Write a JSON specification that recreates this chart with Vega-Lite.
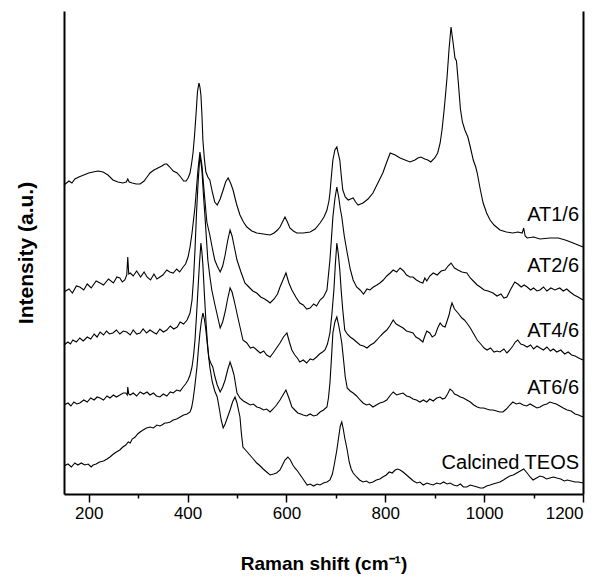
{
"$schema": "https://vega.github.io/schema/vega-lite/v6.json",
"width": 519, "height": 483,
"autosize": {"type": "none"},
"padding": {"left": 64, "top": 11, "right": 21, "bottom": 83},
"config": {"view": {"stroke": null}, "font": "Liberation Sans"},
"datasets": {
"labels": [
{"s":"AT1/6","w":1192,"i":279},{"s":"AT2/6","w":1192,"i":228},{"s":"AT4/6","w":1192,"i":163},{"s":"AT6/6","w":1192,"i":106},{"s":"Calcined TEOS","w":1192,"i":31}
],
"spectra": [
{"s":"AT1","w":150,"i":309},{"s":"AT1","w":160,"i":313},{"s":"AT1","w":166,"i":311},{"s":"AT1","w":172,"i":315},{"s":"AT1","w":180,"i":317},{"s":"AT1","w":190,"i":319},{"s":"AT1","w":200,"i":321},{"s":"AT1","w":209,"i":322},{"s":"AT1","w":219,"i":323},{"s":"AT1","w":229,"i":322},{"s":"AT1","w":239,"i":319},{"s":"AT1","w":249,"i":314},{"s":"AT1","w":259,"i":312},{"s":"AT1","w":269,"i":311},{"s":"AT1","w":276,"i":312},{"s":"AT1","w":279,"i":315},{"s":"AT1","w":282,"i":312},{"s":"AT1","w":288,"i":311},{"s":"AT1","w":296,"i":310},{"s":"AT1","w":304,"i":310},{"s":"AT1","w":312,"i":313},{"s":"AT1","w":318,"i":317},{"s":"AT1","w":324,"i":321},{"s":"AT1","w":332,"i":324},{"s":"AT1","w":340,"i":326},{"s":"AT1","w":348,"i":328},{"s":"AT1","w":354,"i":330},{"s":"AT1","w":358,"i":330},{"s":"AT1","w":364,"i":327},{"s":"AT1","w":371,"i":323},{"s":"AT1","w":379,"i":321},{"s":"AT1","w":386,"i":317},{"s":"AT1","w":392,"i":313},{"s":"AT1","w":397,"i":313},{"s":"AT1","w":401,"i":316},{"s":"AT1","w":405,"i":321},{"s":"AT1","w":408,"i":330},{"s":"AT1","w":411,"i":341},{"s":"AT1","w":414,"i":358},{"s":"AT1","w":417,"i":379},{"s":"AT1","w":420,"i":402},{"s":"AT1","w":423,"i":411},{"s":"AT1","w":425,"i":407},{"s":"AT1","w":427,"i":399},{"s":"AT1","w":429,"i":380},{"s":"AT1","w":431,"i":354},{"s":"AT1","w":434,"i":335},{"s":"AT1","w":437,"i":322},{"s":"AT1","w":441,"i":317},{"s":"AT1","w":445,"i":314},{"s":"AT1","w":450,"i":302},{"s":"AT1","w":455,"i":292},{"s":"AT1","w":460,"i":289},{"s":"AT1","w":466,"i":295},{"s":"AT1","w":472,"i":304},{"s":"AT1","w":477,"i":312},{"s":"AT1","w":482,"i":316},{"s":"AT1","w":487,"i":311},{"s":"AT1","w":492,"i":304},{"s":"AT1","w":499,"i":290},{"s":"AT1","w":506,"i":279},{"s":"AT1","w":513,"i":272},{"s":"AT1","w":520,"i":267},{"s":"AT1","w":530,"i":263},{"s":"AT1","w":540,"i":261},{"s":"AT1","w":553,"i":260},{"s":"AT1","w":567,"i":259},{"s":"AT1","w":575,"i":261},{"s":"AT1","w":582,"i":264},{"s":"AT1","w":587,"i":267},{"s":"AT1","w":592,"i":272},{"s":"AT1","w":597,"i":277},{"s":"AT1","w":602,"i":272},{"s":"AT1","w":607,"i":266},{"s":"AT1","w":614,"i":263},{"s":"AT1","w":621,"i":261},{"s":"AT1","w":634,"i":261},{"s":"AT1","w":648,"i":262},{"s":"AT1","w":658,"i":265},{"s":"AT1","w":668,"i":271},{"s":"AT1","w":676,"i":277},{"s":"AT1","w":682,"i":284},{"s":"AT1","w":686,"i":293},{"s":"AT1","w":688,"i":301},{"s":"AT1","w":691,"i":318},{"s":"AT1","w":694,"i":334},{"s":"AT1","w":698,"i":344},{"s":"AT1","w":702,"i":347},{"s":"AT1","w":705,"i":340},{"s":"AT1","w":708,"i":334},{"s":"AT1","w":711,"i":318},{"s":"AT1","w":714,"i":304},{"s":"AT1","w":719,"i":297},{"s":"AT1","w":725,"i":294},{"s":"AT1","w":730,"i":295},{"s":"AT1","w":735,"i":296},{"s":"AT1","w":740,"i":292},{"s":"AT1","w":745,"i":289},{"s":"AT1","w":750,"i":290},{"s":"AT1","w":755,"i":291},{"s":"AT1","w":765,"i":295},{"s":"AT1","w":775,"i":301},{"s":"AT1","w":785,"i":311},{"s":"AT1","w":795,"i":321},{"s":"AT1","w":803,"i":332},{"s":"AT1","w":810,"i":341},{"s":"AT1","w":820,"i":339},{"s":"AT1","w":830,"i":336},{"s":"AT1","w":840,"i":334},{"s":"AT1","w":850,"i":332},{"s":"AT1","w":860,"i":334},{"s":"AT1","w":866,"i":336},{"s":"AT1","w":872,"i":337},{"s":"AT1","w":880,"i":335},{"s":"AT1","w":886,"i":334},{"s":"AT1","w":892,"i":332},{"s":"AT1","w":900,"i":336},{"s":"AT1","w":906,"i":341},{"s":"AT1","w":911,"i":351},{"s":"AT1","w":915,"i":365},{"s":"AT1","w":919,"i":384},{"s":"AT1","w":922,"i":400},{"s":"AT1","w":925,"i":417},{"s":"AT1","w":929,"i":445},{"s":"AT1","w":933,"i":467},{"s":"AT1","w":937,"i":452},{"s":"AT1","w":941,"i":436},{"s":"AT1","w":944,"i":433},{"s":"AT1","w":948,"i":410},{"s":"AT1","w":952,"i":385},{"s":"AT1","w":956,"i":372},{"s":"AT1","w":961,"i":364},{"s":"AT1","w":967,"i":357},{"s":"AT1","w":972,"i":347},{"s":"AT1","w":978,"i":334},{"s":"AT1","w":983,"i":327},{"s":"AT1","w":986,"i":321},{"s":"AT1","w":992,"i":305},{"s":"AT1","w":998,"i":291},{"s":"AT1","w":1005,"i":281},{"s":"AT1","w":1012,"i":274},{"s":"AT1","w":1020,"i":269},{"s":"AT1","w":1032,"i":264},{"s":"AT1","w":1045,"i":262},{"s":"AT1","w":1058,"i":261},{"s":"AT1","w":1068,"i":262},{"s":"AT1","w":1077,"i":261},{"s":"AT1","w":1080,"i":266},{"s":"AT1","w":1083,"i":258},{"s":"AT1","w":1087,"i":256},{"s":"AT1","w":1100,"i":257},{"s":"AT1","w":1113,"i":255},{"s":"AT1","w":1133,"i":256},{"s":"AT1","w":1150,"i":256},{"s":"AT1","w":1164,"i":254},{"s":"AT1","w":1175,"i":252},{"s":"AT1","w":1185,"i":250},{"s":"AT1","w":1200,"i":247},

{"s":"AT2","w":150,"i":202},{"s":"AT2","w":160,"i":205},{"s":"AT2","w":167,"i":201},{"s":"AT2","w":175,"i":208},{"s":"AT2","w":182,"i":207},{"s":"AT2","w":190,"i":204},{"s":"AT2","w":197,"i":210},{"s":"AT2","w":205,"i":206},{"s":"AT2","w":215,"i":213},{"s":"AT2","w":223,"i":211},{"s":"AT2","w":230,"i":209},{"s":"AT2","w":240,"i":215},{"s":"AT2","w":250,"i":211},{"s":"AT2","w":257,"i":217},{"s":"AT2","w":263,"i":216},{"s":"AT2","w":268,"i":212},{"s":"AT2","w":273,"i":214},{"s":"AT2","w":277,"i":219},{"s":"AT2","w":279,"i":237},{"s":"AT2","w":281,"i":220},{"s":"AT2","w":284,"i":221},{"s":"AT2","w":290,"i":218},{"s":"AT2","w":297,"i":223},{"s":"AT2","w":305,"i":217},{"s":"AT2","w":312,"i":222},{"s":"AT2","w":318,"i":217},{"s":"AT2","w":325,"i":214},{"s":"AT2","w":332,"i":220},{"s":"AT2","w":338,"i":215},{"s":"AT2","w":344,"i":217},{"s":"AT2","w":350,"i":219},{"s":"AT2","w":358,"i":224},{"s":"AT2","w":364,"i":222},{"s":"AT2","w":371,"i":221},{"s":"AT2","w":378,"i":225},{"s":"AT2","w":384,"i":222},{"s":"AT2","w":391,"i":227},{"s":"AT2","w":396,"i":230},{"s":"AT2","w":401,"i":237},{"s":"AT2","w":405,"i":247},{"s":"AT2","w":409,"i":261},{"s":"AT2","w":415,"i":287},{"s":"AT2","w":421,"i":324},{"s":"AT2","w":425,"i":342},{"s":"AT2","w":429,"i":329},{"s":"AT2","w":435,"i":294},{"s":"AT2","w":439,"i":272},{"s":"AT2","w":445,"i":259},{"s":"AT2","w":450,"i":246},{"s":"AT2","w":455,"i":234},{"s":"AT2","w":460,"i":228},{"s":"AT2","w":466,"i":222},{"s":"AT2","w":471,"i":228},{"s":"AT2","w":476,"i":239},{"s":"AT2","w":481,"i":253},{"s":"AT2","w":486,"i":264},{"s":"AT2","w":490,"i":258},{"s":"AT2","w":495,"i":246},{"s":"AT2","w":500,"i":234},{"s":"AT2","w":508,"i":222},{"s":"AT2","w":516,"i":211},{"s":"AT2","w":524,"i":207},{"s":"AT2","w":532,"i":203},{"s":"AT2","w":540,"i":201},{"s":"AT2","w":548,"i":197},{"s":"AT2","w":556,"i":195},{"s":"AT2","w":562,"i":193},{"s":"AT2","w":567,"i":191},{"s":"AT2","w":575,"i":195},{"s":"AT2","w":582,"i":200},{"s":"AT2","w":587,"i":207},{"s":"AT2","w":593,"i":214},{"s":"AT2","w":599,"i":221},{"s":"AT2","w":605,"i":211},{"s":"AT2","w":611,"i":204},{"s":"AT2","w":619,"i":197},{"s":"AT2","w":627,"i":191},{"s":"AT2","w":634,"i":189},{"s":"AT2","w":641,"i":185},{"s":"AT2","w":648,"i":186},{"s":"AT2","w":655,"i":190},{"s":"AT2","w":661,"i":188},{"s":"AT2","w":668,"i":194},{"s":"AT2","w":675,"i":197},{"s":"AT2","w":682,"i":204},{"s":"AT2","w":688,"i":234},{"s":"AT2","w":691,"i":255},{"s":"AT2","w":694,"i":277},{"s":"AT2","w":698,"i":295},{"s":"AT2","w":702,"i":307},{"s":"AT2","w":706,"i":296},{"s":"AT2","w":709,"i":285},{"s":"AT2","w":712,"i":277},{"s":"AT2","w":717,"i":258},{"s":"AT2","w":723,"i":241},{"s":"AT2","w":729,"i":225},{"s":"AT2","w":735,"i":214},{"s":"AT2","w":742,"i":207},{"s":"AT2","w":749,"i":204},{"s":"AT2","w":756,"i":200},{"s":"AT2","w":763,"i":205},{"s":"AT2","w":769,"i":204},{"s":"AT2","w":776,"i":207},{"s":"AT2","w":783,"i":209},{"s":"AT2","w":789,"i":211},{"s":"AT2","w":796,"i":214},{"s":"AT2","w":803,"i":218},{"s":"AT2","w":810,"i":221},{"s":"AT2","w":816,"i":224},{"s":"AT2","w":823,"i":222},{"s":"AT2","w":830,"i":226},{"s":"AT2","w":837,"i":223},{"s":"AT2","w":843,"i":219},{"s":"AT2","w":850,"i":217},{"s":"AT2","w":856,"i":217},{"s":"AT2","w":863,"i":214},{"s":"AT2","w":870,"i":212},{"s":"AT2","w":876,"i":211},{"s":"AT2","w":880,"i":216},{"s":"AT2","w":884,"i":213},{"s":"AT2","w":890,"i":218},{"s":"AT2","w":897,"i":221},{"s":"AT2","w":905,"i":219},{"s":"AT2","w":913,"i":223},{"s":"AT2","w":921,"i":224},{"s":"AT2","w":927,"i":228},{"s":"AT2","w":933,"i":231},{"s":"AT2","w":940,"i":226},{"s":"AT2","w":947,"i":224},{"s":"AT2","w":955,"i":222},{"s":"AT2","w":965,"i":221},{"s":"AT2","w":972,"i":216},{"s":"AT2","w":980,"i":212},{"s":"AT2","w":986,"i":209},{"s":"AT2","w":992,"i":207},{"s":"AT2","w":1000,"i":204},{"s":"AT2","w":1008,"i":203},{"s":"AT2","w":1018,"i":201},{"s":"AT2","w":1026,"i":198},{"s":"AT2","w":1034,"i":200},{"s":"AT2","w":1040,"i":196},{"s":"AT2","w":1046,"i":197},{"s":"AT2","w":1054,"i":205},{"s":"AT2","w":1062,"i":212},{"s":"AT2","w":1068,"i":210},{"s":"AT2","w":1075,"i":207},{"s":"AT2","w":1081,"i":209},{"s":"AT2","w":1087,"i":207},{"s":"AT2","w":1094,"i":204},{"s":"AT2","w":1100,"i":206},{"s":"AT2","w":1107,"i":203},{"s":"AT2","w":1113,"i":204},{"s":"AT2","w":1120,"i":207},{"s":"AT2","w":1127,"i":203},{"s":"AT2","w":1135,"i":206},{"s":"AT2","w":1143,"i":204},{"s":"AT2","w":1153,"i":206},{"s":"AT2","w":1160,"i":203},{"s":"AT2","w":1167,"i":205},{"s":"AT2","w":1174,"i":202},{"s":"AT2","w":1182,"i":199},{"s":"AT2","w":1190,"i":197},{"s":"AT2","w":1200,"i":194},

{"s":"AT4","w":150,"i":149},{"s":"AT4","w":158,"i":152},{"s":"AT4","w":163,"i":150},{"s":"AT4","w":168,"i":154},{"s":"AT4","w":175,"i":152},{"s":"AT4","w":182,"i":156},{"s":"AT4","w":189,"i":153},{"s":"AT4","w":197,"i":157},{"s":"AT4","w":204,"i":155},{"s":"AT4","w":211,"i":160},{"s":"AT4","w":217,"i":157},{"s":"AT4","w":223,"i":162},{"s":"AT4","w":230,"i":159},{"s":"AT4","w":236,"i":163},{"s":"AT4","w":242,"i":160},{"s":"AT4","w":249,"i":161},{"s":"AT4","w":256,"i":164},{"s":"AT4","w":263,"i":160},{"s":"AT4","w":270,"i":163},{"s":"AT4","w":277,"i":162},{"s":"AT4","w":284,"i":159},{"s":"AT4","w":290,"i":164},{"s":"AT4","w":297,"i":160},{"s":"AT4","w":304,"i":161},{"s":"AT4","w":310,"i":165},{"s":"AT4","w":317,"i":161},{"s":"AT4","w":324,"i":164},{"s":"AT4","w":330,"i":162},{"s":"AT4","w":337,"i":160},{"s":"AT4","w":344,"i":165},{"s":"AT4","w":351,"i":162},{"s":"AT4","w":358,"i":164},{"s":"AT4","w":365,"i":168},{"s":"AT4","w":372,"i":165},{"s":"AT4","w":379,"i":167},{"s":"AT4","w":385,"i":172},{"s":"AT4","w":392,"i":170},{"s":"AT4","w":399,"i":174},{"s":"AT4","w":405,"i":181},{"s":"AT4","w":409,"i":194},{"s":"AT4","w":412,"i":215},{"s":"AT4","w":415,"i":244},{"s":"AT4","w":418,"i":280},{"s":"AT4","w":421,"i":309},{"s":"AT4","w":425,"i":339},{"s":"AT4","w":429,"i":324},{"s":"AT4","w":432,"i":300},{"s":"AT4","w":435,"i":279},{"s":"AT4","w":441,"i":234},{"s":"AT4","w":445,"i":218},{"s":"AT4","w":449,"i":204},{"s":"AT4","w":455,"i":190},{"s":"AT4","w":460,"i":179},{"s":"AT4","w":466,"i":166},{"s":"AT4","w":471,"i":172},{"s":"AT4","w":476,"i":182},{"s":"AT4","w":481,"i":195},{"s":"AT4","w":486,"i":206},{"s":"AT4","w":490,"i":202},{"s":"AT4","w":494,"i":194},{"s":"AT4","w":498,"i":185},{"s":"AT4","w":502,"i":176},{"s":"AT4","w":507,"i":165},{"s":"AT4","w":512,"i":154},{"s":"AT4","w":520,"i":151},{"s":"AT4","w":527,"i":146},{"s":"AT4","w":533,"i":147},{"s":"AT4","w":540,"i":144},{"s":"AT4","w":547,"i":141},{"s":"AT4","w":554,"i":143},{"s":"AT4","w":560,"i":139},{"s":"AT4","w":567,"i":137},{"s":"AT4","w":573,"i":141},{"s":"AT4","w":580,"i":146},{"s":"AT4","w":587,"i":151},{"s":"AT4","w":594,"i":157},{"s":"AT4","w":601,"i":161},{"s":"AT4","w":606,"i":152},{"s":"AT4","w":611,"i":144},{"s":"AT4","w":617,"i":139},{"s":"AT4","w":622,"i":136},{"s":"AT4","w":627,"i":132},{"s":"AT4","w":634,"i":134},{"s":"AT4","w":641,"i":131},{"s":"AT4","w":648,"i":135},{"s":"AT4","w":654,"i":134},{"s":"AT4","w":661,"i":137},{"s":"AT4","w":667,"i":140},{"s":"AT4","w":673,"i":142},{"s":"AT4","w":678,"i":144},{"s":"AT4","w":683,"i":150},{"s":"AT4","w":688,"i":161},{"s":"AT4","w":692,"i":180},{"s":"AT4","w":696,"i":204},{"s":"AT4","w":699,"i":230},{"s":"AT4","w":702,"i":251},{"s":"AT4","w":705,"i":240},{"s":"AT4","w":708,"i":224},{"s":"AT4","w":711,"i":202},{"s":"AT4","w":714,"i":184},{"s":"AT4","w":718,"i":164},{"s":"AT4","w":723,"i":160},{"s":"AT4","w":729,"i":157},{"s":"AT4","w":735,"i":155},{"s":"AT4","w":742,"i":152},{"s":"AT4","w":749,"i":149},{"s":"AT4","w":756,"i":148},{"s":"AT4","w":763,"i":146},{"s":"AT4","w":770,"i":149},{"s":"AT4","w":777,"i":151},{"s":"AT4","w":783,"i":154},{"s":"AT4","w":790,"i":158},{"s":"AT4","w":796,"i":161},{"s":"AT4","w":803,"i":164},{"s":"AT4","w":809,"i":168},{"s":"AT4","w":816,"i":174},{"s":"AT4","w":822,"i":170},{"s":"AT4","w":829,"i":168},{"s":"AT4","w":836,"i":166},{"s":"AT4","w":843,"i":163},{"s":"AT4","w":850,"i":162},{"s":"AT4","w":856,"i":161},{"s":"AT4","w":862,"i":157},{"s":"AT4","w":869,"i":155},{"s":"AT4","w":876,"i":152},{"s":"AT4","w":880,"i":158},{"s":"AT4","w":884,"i":163},{"s":"AT4","w":890,"i":161},{"s":"AT4","w":895,"i":157},{"s":"AT4","w":901,"i":159},{"s":"AT4","w":906,"i":166},{"s":"AT4","w":911,"i":171},{"s":"AT4","w":916,"i":168},{"s":"AT4","w":921,"i":167},{"s":"AT4","w":925,"i":173},{"s":"AT4","w":929,"i":179},{"s":"AT4","w":932,"i":186},{"s":"AT4","w":935,"i":191},{"s":"AT4","w":940,"i":185},{"s":"AT4","w":947,"i":181},{"s":"AT4","w":955,"i":176},{"s":"AT4","w":960,"i":174},{"s":"AT4","w":965,"i":171},{"s":"AT4","w":972,"i":166},{"s":"AT4","w":979,"i":160},{"s":"AT4","w":986,"i":154},{"s":"AT4","w":993,"i":150},{"s":"AT4","w":1000,"i":146},{"s":"AT4","w":1006,"i":144},{"s":"AT4","w":1013,"i":146},{"s":"AT4","w":1020,"i":142},{"s":"AT4","w":1026,"i":143},{"s":"AT4","w":1032,"i":142},{"s":"AT4","w":1040,"i":145},{"s":"AT4","w":1046,"i":141},{"s":"AT4","w":1052,"i":144},{"s":"AT4","w":1058,"i":148},{"s":"AT4","w":1063,"i":152},{"s":"AT4","w":1068,"i":154},{"s":"AT4","w":1074,"i":150},{"s":"AT4","w":1080,"i":149},{"s":"AT4","w":1087,"i":147},{"s":"AT4","w":1094,"i":149},{"s":"AT4","w":1100,"i":145},{"s":"AT4","w":1107,"i":148},{"s":"AT4","w":1113,"i":146},{"s":"AT4","w":1120,"i":144},{"s":"AT4","w":1127,"i":147},{"s":"AT4","w":1134,"i":143},{"s":"AT4","w":1140,"i":145},{"s":"AT4","w":1147,"i":142},{"s":"AT4","w":1155,"i":144},{"s":"AT4","w":1163,"i":140},{"s":"AT4","w":1170,"i":142},{"s":"AT4","w":1177,"i":139},{"s":"AT4","w":1184,"i":138},{"s":"AT4","w":1191,"i":136},{"s":"AT4","w":1200,"i":134},

{"s":"AT6","w":150,"i":89},{"s":"AT6","w":158,"i":91},{"s":"AT6","w":164,"i":88},{"s":"AT6","w":170,"i":92},{"s":"AT6","w":176,"i":90},{"s":"AT6","w":182,"i":91},{"s":"AT6","w":190,"i":94},{"s":"AT6","w":197,"i":92},{"s":"AT6","w":204,"i":96},{"s":"AT6","w":211,"i":94},{"s":"AT6","w":217,"i":97},{"s":"AT6","w":223,"i":96},{"s":"AT6","w":230,"i":94},{"s":"AT6","w":237,"i":98},{"s":"AT6","w":243,"i":96},{"s":"AT6","w":250,"i":99},{"s":"AT6","w":256,"i":97},{"s":"AT6","w":263,"i":99},{"s":"AT6","w":270,"i":101},{"s":"AT6","w":275,"i":101},{"s":"AT6","w":278,"i":99},{"s":"AT6","w":279,"i":107},{"s":"AT6","w":281,"i":100},{"s":"AT6","w":284,"i":99},{"s":"AT6","w":290,"i":101},{"s":"AT6","w":297,"i":98},{"s":"AT6","w":304,"i":102},{"s":"AT6","w":311,"i":100},{"s":"AT6","w":318,"i":102},{"s":"AT6","w":324,"i":99},{"s":"AT6","w":331,"i":101},{"s":"AT6","w":337,"i":98},{"s":"AT6","w":344,"i":97},{"s":"AT6","w":351,"i":100},{"s":"AT6","w":358,"i":98},{"s":"AT6","w":365,"i":102},{"s":"AT6","w":371,"i":101},{"s":"AT6","w":378,"i":104},{"s":"AT6","w":385,"i":103},{"s":"AT6","w":391,"i":107},{"s":"AT6","w":396,"i":110},{"s":"AT6","w":401,"i":114},{"s":"AT6","w":405,"i":119},{"s":"AT6","w":409,"i":127},{"s":"AT6","w":412,"i":138},{"s":"AT6","w":415,"i":154},{"s":"AT6","w":418,"i":178},{"s":"AT6","w":421,"i":204},{"s":"AT6","w":424,"i":230},{"s":"AT6","w":427,"i":251},{"s":"AT6","w":429,"i":242},{"s":"AT6","w":431,"i":229},{"s":"AT6","w":434,"i":200},{"s":"AT6","w":437,"i":174},{"s":"AT6","w":440,"i":152},{"s":"AT6","w":443,"i":136},{"s":"AT6","w":447,"i":131},{"s":"AT6","w":451,"i":127},{"s":"AT6","w":455,"i":118},{"s":"AT6","w":460,"i":109},{"s":"AT6","w":466,"i":102},{"s":"AT6","w":471,"i":107},{"s":"AT6","w":476,"i":114},{"s":"AT6","w":481,"i":124},{"s":"AT6","w":486,"i":132},{"s":"AT6","w":490,"i":126},{"s":"AT6","w":494,"i":119},{"s":"AT6","w":497,"i":110},{"s":"AT6","w":500,"i":101},{"s":"AT6","w":506,"i":96},{"s":"AT6","w":513,"i":93},{"s":"AT6","w":520,"i":91},{"s":"AT6","w":527,"i":89},{"s":"AT6","w":533,"i":90},{"s":"AT6","w":540,"i":87},{"s":"AT6","w":547,"i":86},{"s":"AT6","w":554,"i":84},{"s":"AT6","w":560,"i":85},{"s":"AT6","w":567,"i":82},{"s":"AT6","w":573,"i":85},{"s":"AT6","w":580,"i":89},{"s":"AT6","w":587,"i":94},{"s":"AT6","w":593,"i":99},{"s":"AT6","w":599,"i":104},{"s":"AT6","w":605,"i":96},{"s":"AT6","w":611,"i":87},{"s":"AT6","w":617,"i":84},{"s":"AT6","w":623,"i":81},{"s":"AT6","w":629,"i":80},{"s":"AT6","w":634,"i":79},{"s":"AT6","w":641,"i":78},{"s":"AT6","w":648,"i":80},{"s":"AT6","w":655,"i":78},{"s":"AT6","w":662,"i":79},{"s":"AT6","w":668,"i":82},{"s":"AT6","w":675,"i":84},{"s":"AT6","w":682,"i":87},{"s":"AT6","w":685,"i":96},{"s":"AT6","w":688,"i":111},{"s":"AT6","w":691,"i":135},{"s":"AT6","w":694,"i":161},{"s":"AT6","w":698,"i":172},{"s":"AT6","w":702,"i":177},{"s":"AT6","w":706,"i":168},{"s":"AT6","w":709,"i":160},{"s":"AT6","w":712,"i":151},{"s":"AT6","w":716,"i":132},{"s":"AT6","w":719,"i":117},{"s":"AT6","w":723,"i":106},{"s":"AT6","w":729,"i":103},{"s":"AT6","w":735,"i":101},{"s":"AT6","w":742,"i":98},{"s":"AT6","w":749,"i":94},{"s":"AT6","w":755,"i":91},{"s":"AT6","w":762,"i":89},{"s":"AT6","w":768,"i":90},{"s":"AT6","w":775,"i":87},{"s":"AT6","w":782,"i":89},{"s":"AT6","w":789,"i":91},{"s":"AT6","w":796,"i":92},{"s":"AT6","w":803,"i":94},{"s":"AT6","w":809,"i":98},{"s":"AT6","w":816,"i":102},{"s":"AT6","w":823,"i":99},{"s":"AT6","w":829,"i":100},{"s":"AT6","w":836,"i":101},{"s":"AT6","w":843,"i":98},{"s":"AT6","w":850,"i":97},{"s":"AT6","w":856,"i":95},{"s":"AT6","w":863,"i":94},{"s":"AT6","w":870,"i":92},{"s":"AT6","w":877,"i":94},{"s":"AT6","w":884,"i":92},{"s":"AT6","w":890,"i":95},{"s":"AT6","w":897,"i":93},{"s":"AT6","w":904,"i":96},{"s":"AT6","w":911,"i":97},{"s":"AT6","w":916,"i":95},{"s":"AT6","w":921,"i":96},{"s":"AT6","w":926,"i":100},{"s":"AT6","w":931,"i":105},{"s":"AT6","w":936,"i":103},{"s":"AT6","w":940,"i":100},{"s":"AT6","w":945,"i":99},{"s":"AT6","w":952,"i":97},{"s":"AT6","w":958,"i":96},{"s":"AT6","w":965,"i":94},{"s":"AT6","w":972,"i":92},{"s":"AT6","w":979,"i":89},{"s":"AT6","w":986,"i":87},{"s":"AT6","w":992,"i":86},{"s":"AT6","w":999,"i":86},{"s":"AT6","w":1005,"i":85},{"s":"AT6","w":1012,"i":84},{"s":"AT6","w":1018,"i":84},{"s":"AT6","w":1025,"i":83},{"s":"AT6","w":1032,"i":82},{"s":"AT6","w":1038,"i":82},{"s":"AT6","w":1045,"i":85},{"s":"AT6","w":1052,"i":89},{"s":"AT6","w":1058,"i":92},{"s":"AT6","w":1065,"i":90},{"s":"AT6","w":1072,"i":91},{"s":"AT6","w":1079,"i":89},{"s":"AT6","w":1086,"i":88},{"s":"AT6","w":1093,"i":90},{"s":"AT6","w":1100,"i":88},{"s":"AT6","w":1107,"i":86},{"s":"AT6","w":1113,"i":87},{"s":"AT6","w":1120,"i":89},{"s":"AT6","w":1127,"i":90},{"s":"AT6","w":1133,"i":92},{"s":"AT6","w":1139,"i":91},{"s":"AT6","w":1146,"i":90},{"s":"AT6","w":1153,"i":88},{"s":"AT6","w":1160,"i":86},{"s":"AT6","w":1168,"i":84},{"s":"AT6","w":1176,"i":83},{"s":"AT6","w":1184,"i":80},{"s":"AT6","w":1191,"i":79},{"s":"AT6","w":1200,"i":77},

{"s":"TEOS","w":150,"i":28},{"s":"TEOS","w":158,"i":30},{"s":"TEOS","w":165,"i":27},{"s":"TEOS","w":172,"i":31},{"s":"TEOS","w":178,"i":29},{"s":"TEOS","w":185,"i":31},{"s":"TEOS","w":192,"i":29},{"s":"TEOS","w":199,"i":30},{"s":"TEOS","w":205,"i":27},{"s":"TEOS","w":209,"i":29},{"s":"TEOS","w":215,"i":30},{"s":"TEOS","w":222,"i":32},{"s":"TEOS","w":230,"i":33},{"s":"TEOS","w":237,"i":35},{"s":"TEOS","w":243,"i":37},{"s":"TEOS","w":250,"i":40},{"s":"TEOS","w":256,"i":42},{"s":"TEOS","w":263,"i":44},{"s":"TEOS","w":269,"i":47},{"s":"TEOS","w":275,"i":49},{"s":"TEOS","w":280,"i":52},{"s":"TEOS","w":284,"i":51},{"s":"TEOS","w":288,"i":55},{"s":"TEOS","w":294,"i":57},{"s":"TEOS","w":299,"i":60},{"s":"TEOS","w":304,"i":62},{"s":"TEOS","w":310,"i":64},{"s":"TEOS","w":317,"i":66},{"s":"TEOS","w":324,"i":67},{"s":"TEOS","w":331,"i":66},{"s":"TEOS","w":338,"i":69},{"s":"TEOS","w":344,"i":68},{"s":"TEOS","w":348,"i":69},{"s":"TEOS","w":354,"i":71},{"s":"TEOS","w":358,"i":71},{"s":"TEOS","w":365,"i":72},{"s":"TEOS","w":371,"i":74},{"s":"TEOS","w":378,"i":75},{"s":"TEOS","w":385,"i":77},{"s":"TEOS","w":392,"i":79},{"s":"TEOS","w":399,"i":80},{"s":"TEOS","w":405,"i":82},{"s":"TEOS","w":408,"i":86},{"s":"TEOS","w":411,"i":94},{"s":"TEOS","w":414,"i":105},{"s":"TEOS","w":417,"i":118},{"s":"TEOS","w":419,"i":127},{"s":"TEOS","w":422,"i":145},{"s":"TEOS","w":425,"i":161},{"s":"TEOS","w":428,"i":173},{"s":"TEOS","w":431,"i":181},{"s":"TEOS","w":434,"i":175},{"s":"TEOS","w":437,"i":164},{"s":"TEOS","w":441,"i":145},{"s":"TEOS","w":445,"i":127},{"s":"TEOS","w":450,"i":112},{"s":"TEOS","w":455,"i":103},{"s":"TEOS","w":460,"i":97},{"s":"TEOS","w":464,"i":86},{"s":"TEOS","w":468,"i":74},{"s":"TEOS","w":472,"i":66},{"s":"TEOS","w":476,"i":70},{"s":"TEOS","w":481,"i":77},{"s":"TEOS","w":486,"i":84},{"s":"TEOS","w":491,"i":92},{"s":"TEOS","w":496,"i":97},{"s":"TEOS","w":500,"i":91},{"s":"TEOS","w":503,"i":84},{"s":"TEOS","w":506,"i":77},{"s":"TEOS","w":509,"i":60},{"s":"TEOS","w":512,"i":47},{"s":"TEOS","w":519,"i":43},{"s":"TEOS","w":526,"i":39},{"s":"TEOS","w":533,"i":35},{"s":"TEOS","w":540,"i":31},{"s":"TEOS","w":547,"i":28},{"s":"TEOS","w":553,"i":25},{"s":"TEOS","w":560,"i":22},{"s":"TEOS","w":567,"i":19},{"s":"TEOS","w":574,"i":20},{"s":"TEOS","w":580,"i":21},{"s":"TEOS","w":587,"i":24},{"s":"TEOS","w":592,"i":29},{"s":"TEOS","w":597,"i":34},{"s":"TEOS","w":603,"i":37},{"s":"TEOS","w":608,"i":34},{"s":"TEOS","w":613,"i":29},{"s":"TEOS","w":617,"i":26},{"s":"TEOS","w":621,"i":24},{"s":"TEOS","w":628,"i":19},{"s":"TEOS","w":635,"i":14},{"s":"TEOS","w":642,"i":9},{"s":"TEOS","w":648,"i":10},{"s":"TEOS","w":655,"i":8},{"s":"TEOS","w":662,"i":10},{"s":"TEOS","w":668,"i":9},{"s":"TEOS","w":675,"i":11},{"s":"TEOS","w":682,"i":12},{"s":"TEOS","w":688,"i":14},{"s":"TEOS","w":693,"i":20},{"s":"TEOS","w":697,"i":30},{"s":"TEOS","w":702,"i":44},{"s":"TEOS","w":706,"i":58},{"s":"TEOS","w":709,"i":68},{"s":"TEOS","w":712,"i":72},{"s":"TEOS","w":715,"i":65},{"s":"TEOS","w":718,"i":56},{"s":"TEOS","w":723,"i":44},{"s":"TEOS","w":727,"i":32},{"s":"TEOS","w":731,"i":25},{"s":"TEOS","w":735,"i":21},{"s":"TEOS","w":742,"i":17},{"s":"TEOS","w":748,"i":14},{"s":"TEOS","w":755,"i":12},{"s":"TEOS","w":762,"i":13},{"s":"TEOS","w":768,"i":11},{"s":"TEOS","w":775,"i":12},{"s":"TEOS","w":782,"i":14},{"s":"TEOS","w":789,"i":15},{"s":"TEOS","w":795,"i":17},{"s":"TEOS","w":802,"i":19},{"s":"TEOS","w":808,"i":22},{"s":"TEOS","w":814,"i":21},{"s":"TEOS","w":820,"i":24},{"s":"TEOS","w":825,"i":25},{"s":"TEOS","w":830,"i":24},{"s":"TEOS","w":836,"i":22},{"s":"TEOS","w":843,"i":19},{"s":"TEOS","w":850,"i":16},{"s":"TEOS","w":857,"i":13},{"s":"TEOS","w":864,"i":11},{"s":"TEOS","w":870,"i":12},{"s":"TEOS","w":877,"i":9},{"s":"TEOS","w":884,"i":11},{"s":"TEOS","w":890,"i":10},{"s":"TEOS","w":897,"i":9},{"s":"TEOS","w":904,"i":11},{"s":"TEOS","w":911,"i":10},{"s":"TEOS","w":918,"i":12},{"s":"TEOS","w":925,"i":10},{"s":"TEOS","w":931,"i":11},{"s":"TEOS","w":938,"i":9},{"s":"TEOS","w":945,"i":8},{"s":"TEOS","w":952,"i":10},{"s":"TEOS","w":958,"i":7},{"s":"TEOS","w":965,"i":7},{"s":"TEOS","w":972,"i":9},{"s":"TEOS","w":979,"i":8},{"s":"TEOS","w":986,"i":7},{"s":"TEOS","w":992,"i":6},{"s":"TEOS","w":998,"i":6},{"s":"TEOS","w":1005,"i":8},{"s":"TEOS","w":1012,"i":9},{"s":"TEOS","w":1018,"i":10},{"s":"TEOS","w":1025,"i":11},{"s":"TEOS","w":1032,"i":12},{"s":"TEOS","w":1039,"i":14},{"s":"TEOS","w":1045,"i":16},{"s":"TEOS","w":1052,"i":18},{"s":"TEOS","w":1059,"i":19},{"s":"TEOS","w":1066,"i":21},{"s":"TEOS","w":1073,"i":23},{"s":"TEOS","w":1080,"i":25},{"s":"TEOS","w":1087,"i":21},{"s":"TEOS","w":1093,"i":17},{"s":"TEOS","w":1099,"i":14},{"s":"TEOS","w":1106,"i":16},{"s":"TEOS","w":1113,"i":18},{"s":"TEOS","w":1120,"i":17},{"s":"TEOS","w":1126,"i":15},{"s":"TEOS","w":1133,"i":16},{"s":"TEOS","w":1140,"i":17},{"s":"TEOS","w":1147,"i":16},{"s":"TEOS","w":1155,"i":15},{"s":"TEOS","w":1162,"i":13},{"s":"TEOS","w":1168,"i":14},{"s":"TEOS","w":1176,"i":13},{"s":"TEOS","w":1184,"i":12},{"s":"TEOS","w":1191,"i":12},{"s":"TEOS","w":1200,"i":11}
]
},
"layer": [
{
"data": {"name": "spectra"},
"mark": {"type": "line", "color": "black", "strokeWidth": 1.1},
"encoding": {
"x": {"field": "w", "type": "quantitative", "scale": {"domain": [150, 1200], "nice": false, "zero": false},
"axis": {"values": [200,300,400,500,600,700,800,900,1000,1100,1200], "format": "d", "labelExpr": "datum.value % 200 === 0 ? datum.label : ''", "tickSize": {"condition": {"test": "datum.value % 200 === 0", "value": 8}, "value": 4}, "tickColor": "black", "tickWidth": 1.5, "domainColor": "black", "domainWidth": 2, "labelFontSize": 17, "labelColor": "black", "labelPadding": 3, "grid": false, "title": "Raman shift (cm⁻¹)", "titleFontSize": 19, "titleFontWeight": "bold", "titleColor": "black", "titlePadding": 33}},
"y": {"field": "i", "type": "quantitative", "scale": {"domain": [0, 483], "nice": false},
"axis": {"ticks": false, "labels": false, "grid": false, "domainColor": "black", "domainWidth": 2, "title": "Intensity (a.u.)", "titleFontSize": 21, "titleFontWeight": "bold", "titleColor": "black", "titlePadding": 28}},
"detail": {"field": "s"}
}
},
{
"data": {"name": "labels"},
"mark": {"type": "text", "align": "right", "baseline": "middle", "fontSize": 20, "color": "black"},
"encoding": {
"x": {"field": "w", "type": "quantitative"},
"y": {"field": "i", "type": "quantitative", "axis": {"orient": "right", "ticks": false, "labels": false, "grid": false, "title": null, "domainColor": "black", "domainWidth": 2}},
"text": {"field": "s"}
}
}
],
"resolve": {"axis": {"y": "independent"}}
}
